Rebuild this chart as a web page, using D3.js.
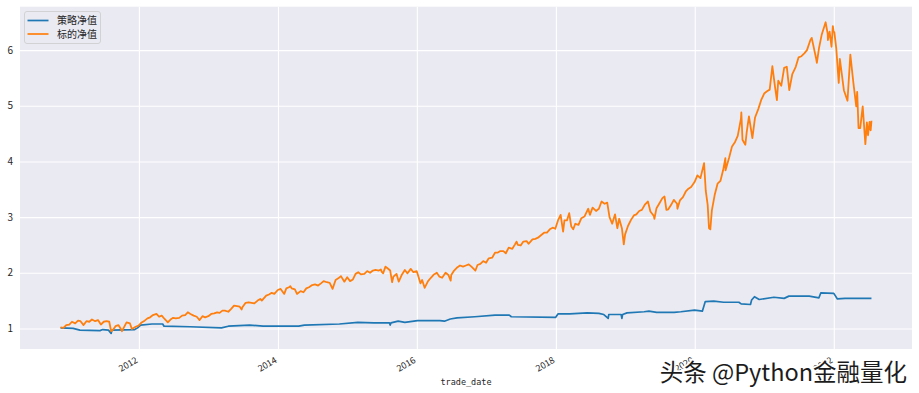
<!DOCTYPE html>
<html>
<head>
<meta charset="utf-8">
<script src="https://cdn.jsdelivr.net/npm/d3@7"></script>
<style>
  body { margin: 0; background: #fff; }
</style>
</head>
<body>
<div class="nav-plot"></div>
<script>

// 标的净值 (benchmark), read off the picture roughly twice a month
const benchDates = [
  '2010-11-15','2010-11-30','2010-12-15','2010-12-31',
  '2011-01-14','2011-01-31','2011-02-15','2011-02-28','2011-03-16','2011-03-31','2011-04-15','2011-04-29','2011-05-16','2011-05-31','2011-06-15','2011-06-30','2011-07-15','2011-07-29','2011-08-08','2011-08-19','2011-08-31','2011-09-15','2011-09-30','2011-10-04','2011-10-28','2011-11-15','2011-11-25','2011-12-15','2011-12-30',
  '2012-01-13','2012-01-31','2012-02-15','2012-02-29','2012-03-15','2012-04-02','2012-04-16','2012-04-30','2012-05-15','2012-06-01','2012-06-15','2012-06-29','2012-07-13','2012-07-31','2012-08-15','2012-08-31','2012-09-14','2012-09-28','2012-10-15','2012-10-31','2012-11-15','2012-11-30','2012-12-14','2012-12-31',
  '2013-01-15','2013-01-31','2013-02-15','2013-02-28','2013-03-15','2013-03-28','2013-04-15','2013-04-30','2013-05-15','2013-05-31','2013-06-14','2013-06-24','2013-06-28','2013-07-15','2013-07-31','2013-08-15','2013-08-30','2013-09-16','2013-09-30','2013-10-08','2013-10-31','2013-11-15','2013-11-29','2013-12-13','2013-12-31',
  '2014-01-15','2014-02-03','2014-02-14','2014-02-28','2014-03-07','2014-03-14','2014-03-31','2014-04-11','2014-04-30','2014-05-15','2014-05-30','2014-06-13','2014-06-30','2014-07-15','2014-07-31','2014-08-15','2014-08-29','2014-09-15','2014-09-30','2014-10-15','2014-10-31','2014-11-14','2014-11-28','2014-12-16','2014-12-31',
  '2015-01-15','2015-01-30','2015-02-13','2015-02-27','2015-03-13','2015-03-31','2015-04-15','2015-04-30','2015-05-15','2015-05-29','2015-06-15','2015-06-26','2015-06-30','2015-07-08','2015-07-20','2015-07-31','2015-08-14','2015-08-24','2015-08-31','2015-09-16','2015-09-28','2015-10-15','2015-10-30','2015-11-13','2015-11-30','2015-12-14','2015-12-31',
  '2016-01-04','2016-01-20','2016-01-29','2016-02-11','2016-02-29','2016-03-15','2016-03-31','2016-04-15','2016-04-29','2016-05-13','2016-05-31','2016-06-15','2016-06-27','2016-06-30','2016-07-15','2016-07-29','2016-08-15','2016-08-31','2016-09-15','2016-09-30','2016-10-14','2016-11-04','2016-11-15','2016-11-30','2016-12-15','2016-12-30',
  '2017-01-13','2017-01-31','2017-02-15','2017-02-28','2017-03-15','2017-03-31','2017-04-13','2017-04-28','2017-05-17','2017-05-31','2017-06-08','2017-06-15','2017-06-30','2017-07-14','2017-07-31','2017-08-10','2017-08-31','2017-09-15','2017-09-29','2017-10-13','2017-10-31','2017-11-15','2017-11-30','2017-12-15','2017-12-29',
  '2018-01-12','2018-01-26','2018-02-08','2018-02-15','2018-02-28','2018-03-12','2018-03-23','2018-04-02','2018-04-13','2018-04-30','2018-05-15','2018-05-31','2018-06-20','2018-06-29','2018-07-13','2018-07-31','2018-08-15','2018-08-29','2018-09-14','2018-09-28','2018-10-10','2018-10-24','2018-10-31','2018-11-08','2018-11-20','2018-11-30','2018-12-14','2018-12-24','2018-12-31',
  '2019-01-15','2019-01-31','2019-02-15','2019-02-28','2019-03-15','2019-03-29','2019-04-15','2019-04-30','2019-05-13','2019-05-31','2019-06-03','2019-06-14','2019-06-28','2019-07-15','2019-07-26','2019-08-05','2019-08-15','2019-08-30','2019-09-13','2019-09-30','2019-10-02','2019-10-15','2019-10-31','2019-11-15','2019-11-29','2019-12-13','2019-12-31',
  '2020-01-15','2020-01-31','2020-02-19','2020-02-28','2020-03-09','2020-03-16','2020-03-23','2020-03-31','2020-04-15','2020-04-30','2020-05-15','2020-05-29','2020-06-10','2020-06-11','2020-06-30','2020-07-15','2020-07-31','2020-08-14','2020-08-31','2020-09-02','2020-09-08','2020-09-23','2020-09-30','2020-10-12','2020-10-30','2020-11-13','2020-11-30','2020-12-15','2020-12-31',
  '2021-01-15','2021-01-29','2021-02-12','2021-02-26','2021-03-08','2021-03-15','2021-03-31','2021-04-15','2021-04-29','2021-05-12','2021-05-28','2021-06-15','2021-06-30','2021-07-15','2021-07-30','2021-08-13','2021-08-31','2021-09-07','2021-09-30','2021-10-04','2021-10-15','2021-10-29','2021-11-19','2021-11-30','2021-12-01','2021-12-10','2021-12-20','2021-12-27','2021-12-31',
  '2022-01-04','2022-01-14','2022-01-27','2022-02-02','2022-02-23','2022-03-14','2022-03-29','2022-04-14','2022-04-29','2022-05-04','2022-05-11','2022-05-20','2022-06-02','2022-06-16','2022-06-24','2022-06-30','2022-07-08','2022-07-14','2022-07-18'
];
const benchValues = [
  1.02,1.01,1.06,1.07,
  1.12,1.09,1.14,1.13,1.06,1.13,1.12,1.16,1.13,1.15,1.07,1.12,1.13,1.12,0.95,0.98,1.04,1.06,0.98,0.95,1.11,1.09,0.99,1.03,1.05,
  1.10,1.14,1.18,1.20,1.24,1.26,1.21,1.23,1.17,1.11,1.16,1.19,1.18,1.19,1.23,1.24,1.29,1.26,1.23,1.21,1.15,1.22,1.20,1.22,
  1.26,1.27,1.29,1.28,1.32,1.32,1.30,1.35,1.41,1.40,1.39,1.34,1.38,1.46,1.47,1.46,1.45,1.50,1.53,1.50,1.59,1.61,1.64,1.62,1.69,
  1.71,1.62,1.72,1.74,1.76,1.72,1.70,1.62,1.67,1.65,1.72,1.74,1.78,1.79,1.77,1.81,1.85,1.83,1.82,1.71,1.87,1.90,1.94,1.84,1.92,
  1.85,1.88,1.98,2.01,1.97,1.98,2.03,2.00,2.04,2.05,2.04,2.06,2.02,1.99,2.11,2.08,2.04,1.83,1.93,1.98,1.84,1.97,2.05,1.99,2.07,2.01,2.03,
  1.99,1.81,1.87,1.73,1.85,1.91,1.97,2.00,1.93,1.91,2.00,1.96,1.86,1.96,2.04,2.09,2.13,2.11,2.13,2.15,2.11,2.04,2.14,2.16,2.21,2.18,
  2.26,2.27,2.36,2.36,2.39,2.39,2.35,2.45,2.43,2.51,2.56,2.50,2.49,2.56,2.57,2.52,2.60,2.61,2.63,2.67,2.72,2.72,2.78,2.81,2.79,
  2.94,3.04,2.74,2.94,2.94,3.07,2.83,2.78,2.88,2.86,2.98,3.01,3.15,3.04,3.17,3.11,3.15,3.28,3.24,3.26,3.00,2.88,2.96,3.05,2.80,2.97,2.80,2.51,2.69,
  2.84,2.95,3.03,3.05,3.11,3.13,3.23,3.28,3.10,3.02,2.97,3.16,3.24,3.34,3.37,3.13,3.14,3.22,3.31,3.24,3.15,3.30,3.36,3.46,3.51,3.54,3.63,
  3.75,3.70,3.97,3.47,3.22,2.80,2.78,3.12,3.40,3.60,3.65,3.84,4.06,3.84,4.07,4.27,4.35,4.46,4.77,4.88,4.39,4.30,4.52,4.81,4.42,4.79,4.94,5.10,5.22,
  5.26,5.29,5.71,5.34,5.10,5.45,5.36,5.68,5.70,5.28,5.57,5.70,5.87,5.89,5.94,6.00,6.18,6.22,5.85,5.77,6.03,6.27,6.50,6.29,6.18,6.33,6.06,6.43,6.33,
  6.32,6.03,5.41,5.84,5.28,5.09,5.92,5.41,4.99,5.25,4.60,4.60,4.99,4.31,4.70,4.47,4.71,4.56,4.73
];

// 策略净值 (strategy), mostly flat steps
const stratDates = [
  '2010-11-15','2011-01-20','2011-02-25','2011-06-10','2011-06-25','2011-07-25','2011-08-08','2011-08-12','2011-12-10','2011-12-25',
  '2012-01-10','2012-03-10','2012-05-05','2012-05-12','2012-09-25','2013-03-10','2013-04-15','2013-08-05','2013-10-15',
  '2014-04-20','2014-05-20','2014-11-20','2015-02-25','2015-05-20','2015-08-10','2015-08-14','2015-08-18','2015-09-25','2015-10-30',
  '2016-01-05','2016-05-01','2016-05-25','2016-06-25','2016-07-30','2016-11-01','2017-02-15','2017-05-01','2017-05-12','2017-12-31',
  '2018-01-12','2018-03-15','2018-06-15','2018-08-15','2018-09-10','2018-10-03','2018-10-06','2018-12-10','2018-12-14','2018-12-18',
  '2019-01-10','2019-04-10','2019-05-05','2019-06-15','2019-09-15','2019-10-20','2019-12-31',
  '2020-02-10','2020-02-25','2020-04-10','2020-06-01','2020-08-20','2020-09-01','2020-10-20','2020-10-26','2020-11-10','2020-12-05',
  '2021-02-20','2021-04-15','2021-05-10','2021-08-25','2021-10-15','2021-10-25',
  '2022-01-01','2022-01-20','2022-03-01','2022-07-18'
];
const stratValues = [
  1.01,1.00,0.97,0.96,0.98,0.97,0.91,0.97,0.98,1.01,
  1.06,1.08,1.08,1.04,1.03,1.01,1.04,1.06,1.04,
  1.04,1.06,1.08,1.11,1.10,1.10,1.06,1.10,1.13,1.11,
  1.14,1.14,1.13,1.17,1.19,1.21,1.24,1.24,1.21,1.20,
  1.26,1.26,1.28,1.27,1.25,1.18,1.25,1.25,1.18,1.25,
  1.28,1.30,1.31,1.29,1.29,1.30,1.33,
  1.31,1.48,1.49,1.47,1.47,1.44,1.43,1.51,1.57,1.52,
  1.56,1.54,1.58,1.58,1.55,1.64,
  1.63,1.53,1.54,1.54
];

const seriesNames = ['策略净值', '标的净值'];
const seriesColors = ['#1f77b4', '#ff7f0e'];
const yTicks = [1, 2, 3, 4, 5, 6];
const xLabel = 'trade_date';
const watermark = '头条 @Python金融量化';

const width = 919;
const height = 393;
const plot = {left: 20, right: 912, top: 6.7, bottom: 349};

const parse = d3.timeParse('%Y-%m-%d');
const bench = benchDates.map((d, i) => ({date: parse(d), value: benchValues[i]}));
const strat = stratDates.map((d, i) => ({date: parse(d), value: stratValues[i]}));
const all = bench.concat(strat);

// 5% padding like matplotlib's default margins
const tExt = d3.extent(all, d => +d.date);
const tPad = (tExt[1] - tExt[0]) * 0.05;
const vExt = d3.extent(all, d => d.value);
const vPad = (vExt[1] - vExt[0]) * 0.05;

const x = d3.scaleTime()
  .domain([new Date(tExt[0] - tPad), new Date(tExt[1] + tPad)])
  .range([plot.left, plot.right]);
const y = d3.scaleLinear()
  .domain([vExt[0] - vPad, vExt[1] + vPad])
  .range([plot.bottom, plot.top]);

const svg = d3.select('.nav-plot')
  .append('svg')
  .attr('width', width)
  .attr('height', height);

svg.append('rect')
  .attr('x', plot.left)
  .attr('y', plot.top)
  .attr('width', plot.right - plot.left)
  .attr('height', plot.bottom - plot.top)
  .attr('fill', '#eaeaf2');

// x axis with grid
const xAxis = svg.append('g')
  .attr('transform', `translate(0,${plot.bottom})`)
  .call(d3.axisBottom(x).ticks(d3.timeYear.every(2)).tickFormat(d3.timeFormat('%Y'))
    .tickSizeInner(-(plot.bottom - plot.top)).tickSizeOuter(0));
xAxis.select('.domain').remove();
xAxis.selectAll('line').attr('stroke', '#fff').attr('stroke-width', 1.1);
xAxis.selectAll('text')
  .attr('fill', '#262626')
  .attr('font-size', 9)
  .attr('font-family', '"Noto Sans CJK SC", "DejaVu Sans", sans-serif')
  .attr('text-anchor', 'end')
  .attr('dy', null)
  .attr('y', 0)
  .attr('transform', 'translate(-1,13) rotate(-30)');

// y axis with grid
const yAxis = svg.append('g')
  .attr('transform', `translate(${plot.left},0)`)
  .call(d3.axisLeft(y).tickValues(yTicks).tickFormat(d3.format('d'))
    .tickSizeInner(-(plot.right - plot.left)).tickSizeOuter(0).tickPadding(7));
yAxis.select('.domain').remove();
yAxis.selectAll('line').attr('stroke', '#fff').attr('stroke-width', 1.1);
yAxis.selectAll('text')
  .attr('fill', '#262626')
  .attr('font-size', 10)
  .attr('font-family', '"Noto Sans CJK SC", "DejaVu Sans", sans-serif');

const line = d3.line()
  .x(d => x(d.date))
  .y(d => y(d.value));

svg.append('path')
  .datum(strat)
  .attr('fill', 'none')
  .attr('stroke', seriesColors[0])
  .attr('stroke-width', 1.7)
  .attr('stroke-linejoin', 'round')
  .attr('d', line);

svg.append('path')
  .datum(bench)
  .attr('fill', 'none')
  .attr('stroke', seriesColors[1])
  .attr('stroke-width', 1.8)
  .attr('stroke-linejoin', 'round')
  .attr('d', line);

svg.append('text')
  .attr('x', (plot.left + plot.right) / 2)
  .attr('y', 385)
  .attr('text-anchor', 'middle')
  .attr('font-size', 8.5)
  .attr('font-family', '"DejaVu Sans Mono", monospace')
  .attr('fill', '#262626')
  .text(xLabel);

// legend
const legend = svg.append('g');
legend.append('rect')
  .attr('x', 24.5)
  .attr('y', 11.5)
  .attr('width', 76)
  .attr('height', 32)
  .attr('rx', 2.5)
  .attr('fill', '#eaeaf2')
  .attr('fill-opacity', 0.8)
  .attr('stroke', '#cccccc')
  .attr('stroke-width', 0.8);

let items = legend.selectAll('.item')
  .data(seriesNames)
  .enter()
  .append('g')
  .attr('class', 'item')
  .attr('transform', (d, i) => `translate(0,${20.5 + i * 13.5})`);
items.append('line')
  .attr('x1', 27.5)
  .attr('x2', 48.5)
  .attr('stroke', (d, i) => seriesColors[i])
  .attr('stroke-width', 1.7);
items.append('text')
  .attr('x', 57)
  .attr('dy', '0.36em')
  .attr('font-size', 10)
  .attr('font-family', '"Noto Sans CJK SC", sans-serif')
  .attr('fill', '#262626')
  .text(d => d);

// watermark
svg.append('text')
  .attr('x', 907)
  .attr('y', 381)
  .attr('text-anchor', 'end')
  .attr('font-size', 23.5)
  .attr('font-family', '"Noto Sans CJK SC", sans-serif')
  .attr('fill', '#1c1c1c')
  .attr('stroke', '#ffffff')
  .attr('stroke-width', 3.5)
  .attr('paint-order', 'stroke')
  .text(watermark);

</script>
</body>
</html>
